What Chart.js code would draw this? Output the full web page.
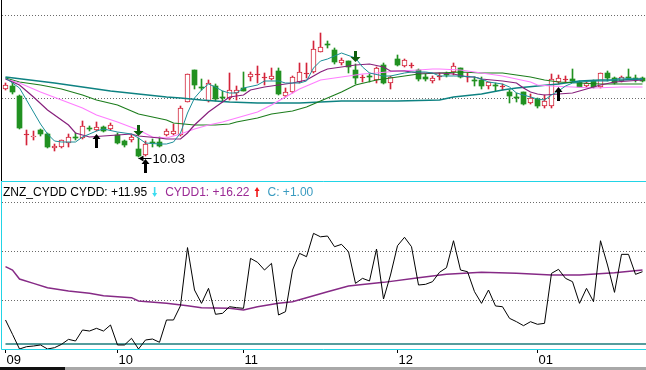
<!DOCTYPE html>
<html lang="en">
<head>
    <meta charset="UTF-8">
    <meta name="viewport" content="width=device-width, initial-scale=1.0">
    <title>ZNZ_CYDD</title>
    <script src="https://cdn.jsdelivr.net/npm/chart.js"></script>
    <style>
        body { margin: 0; background: #fff; font-family: Arial, "Liberation Sans", sans-serif; overflow: hidden; }
        #wrap { position: relative; width: 646px; height: 370px; }
        #priceChart { position: absolute; left: 0; top: 0; }
        #cyddChart { position: absolute; left: 0; top: 181px; }
        #scrollBar { position: absolute; left: 0; top: 367px; width: 646px; height: 3px; background: #a8a8a8; }
        #scrollThumb { width: 65px; height: 3px; background: #111; }
    </style>
</head>
<body>
<div id="wrap">
    <canvas id="priceChart" width="646" height="181"></canvas>
    <canvas id="cyddChart" width="646" height="186"></canvas>
    <div id="scrollBar"><div id="scrollThumb"></div></div>
</div>

<script>
    // month labels and the day index where each month starts
    const months = ["09", "10", "11", "12", "01"];
    const monthStart = [0, 16, 34, 56, 76];

    // daily candles
    const open = [10.71, 10.74, 10.64, 10.25, 10.23, 10.30, 10.26, 10.12, 10.13, 10.17,
                  10.23, 10.22, 10.32, 10.30, 10.33, 10.31, 10.25, 10.19, 10.20, 10.11,
                  10.05, 10.18, 10.18, 10.25, 10.26, 10.25, 10.58, 10.90, 10.73, 10.59,
                  10.74, 10.63, 10.62, 10.67, 10.72, 10.83, 10.85, 10.82, 10.81, 10.89,
                  10.64, 10.68, 10.78, 10.86, 10.88, 11.08, 11.16, 11.10, 10.97, 10.99,
                  10.90, 10.82, 10.84, 10.80, 10.95, 10.77, 11.01, 10.94, 10.94, 10.90,
                  10.83, 10.79, 10.83, 10.86, 10.88, 10.92, 10.83, 10.80, 10.80, 10.74,
                  10.75, 10.73, 10.68, 10.63, 10.68, 10.57, 10.61, 10.54, 10.54, 10.78,
                  10.80, 10.81, 10.78, 10.74, 10.79, 10.73, 10.87, 10.82, 10.79, 10.83,
                  10.82, 10.82];
    const high = [10.77, 10.77, 10.65, 10.30, 10.29, 10.31, 10.27, 10.16, 10.20, 10.26,
                  10.27, 10.39, 10.34, 10.38, 10.34, 10.37, 10.27, 10.20, 10.25, 10.22,
                  10.19, 10.21, 10.23, 10.31, 10.36, 10.54, 10.86, 10.90, 10.81, 10.80,
                  10.76, 10.69, 10.87, 10.74, 10.88, 10.88, 10.94, 10.87, 10.92, 10.92,
                  10.72, 10.84, 10.97, 10.97, 11.19, 11.27, 11.19, 11.12, 11.02, 10.99,
                  10.96, 10.85, 10.87, 10.93, 10.97, 10.84, 11.05, 11.01, 10.97, 10.91,
                  10.86, 10.84, 10.87, 10.88, 10.97, 10.92, 10.87, 10.83, 10.83, 10.78,
                  10.77, 10.76, 10.70, 10.67, 10.68, 10.66, 10.62, 10.65, 10.86, 10.85,
                  10.84, 10.91, 10.79, 10.79, 10.80, 10.87, 10.89, 10.83, 10.84, 10.91,
                  10.85, 10.83];
    const low = [10.70, 10.66, 10.31, 10.15, 10.20, 10.24, 10.12, 10.09, 10.12, 10.13,
                 10.20, 10.21, 10.29, 10.29, 10.28, 10.30, 10.16, 10.13, 10.18, 10.03,
                 10.04, 10.13, 10.13, 10.24, 10.25, 10.24, 10.58, 10.71, 10.70, 10.58,
                 10.59, 10.58, 10.60, 10.60, 10.69, 10.79, 10.77, 10.75, 10.80, 10.65,
                 10.63, 10.67, 10.77, 10.82, 10.87, 11.08, 11.12, 10.96, 10.95, 10.87,
                 10.76, 10.78, 10.78, 10.77, 10.76, 10.71, 10.94, 10.93, 10.92, 10.79,
                 10.79, 10.77, 10.80, 10.83, 10.85, 10.82, 10.78, 10.74, 10.71, 10.71,
                 10.69, 10.70, 10.57, 10.58, 10.55, 10.56, 10.52, 10.52, 10.52, 10.76,
                 10.78, 10.78, 10.73, 10.73, 10.72, 10.72, 10.79, 10.76, 10.78, 10.81,
                 10.78, 10.78];
    const close = [10.75, 10.68, 10.32, 10.25, 10.24, 10.26, 10.13, 10.14, 10.20, 10.23,
                   10.22, 10.34, 10.31, 10.33, 10.29, 10.35, 10.17, 10.15, 10.23, 10.04,
                   10.16, 10.17, 10.14, 10.29, 10.29, 10.52, 10.86, 10.75, 10.72, 10.77,
                   10.61, 10.62, 10.70, 10.70, 10.69, 10.86, 10.85, 10.82, 10.84, 10.66,
                   10.68, 10.83, 10.88, 10.86, 11.11, 11.13, 11.15, 10.98, 11.00, 10.93,
                   10.82, 10.82, 10.83, 10.92, 10.77, 10.83, 10.95, 11.00, 10.94, 10.81,
                   10.81, 10.82, 10.83, 10.85, 10.94, 10.83, 10.83, 10.79, 10.74, 10.78,
                   10.74, 10.73, 10.64, 10.62, 10.56, 10.62, 10.54, 10.59, 10.81, 10.82,
                   10.80, 10.79, 10.73, 10.77, 10.73, 10.87, 10.82, 10.77, 10.83, 10.82,
                   10.81, 10.79];

    // moving averages, [day, price]
    const ma5 = [[0, 10.82], [2, 10.72], [4, 10.48], [5, 10.36], [6, 10.26], [7, 10.19], [8, 10.18], [10, 10.18],
                 [11, 10.23], [13, 10.29], [14, 10.31], [16, 10.28], [18, 10.26], [19, 10.22], [20, 10.17], [22, 10.16],
                 [23, 10.16], [24, 10.18], [25, 10.27], [26, 10.47], [27, 10.62], [28, 10.70], [29, 10.76], [30, 10.73],
                 [31, 10.69], [32, 10.67], [33, 10.67], [34, 10.72], [36, 10.75], [37, 10.79], [39, 10.79], [40, 10.77],
                 [42, 10.77], [43, 10.79], [44, 10.92], [45, 10.99], [46, 11.01], [48, 11.07], [50, 11.02], [51, 10.93],
                 [52, 10.87], [54, 10.84], [55, 10.84], [57, 10.87], [58, 10.88], [60, 10.88], [61, 10.87], [62, 10.84],
                 [64, 10.84], [65, 10.84], [67, 10.83], [68, 10.81], [69, 10.78], [71, 10.76], [72, 10.73], [73, 10.67],
                 [75, 10.63], [76, 10.61], [77, 10.60], [78, 10.65], [79, 10.69], [80, 10.74], [81, 10.77], [82, 10.78],
                 [84, 10.79], [86, 10.79], [88, 10.82], [90, 10.81], [91, 10.81]];
    const ma10 = [[0, 10.81], [2, 10.75], [4, 10.63], [6, 10.50], [9, 10.35], [10, 10.27], [12, 10.23], [14, 10.24],
                  [16, 10.25], [18, 10.26], [19, 10.24], [22, 10.22], [23, 10.21], [25, 10.21], [26, 10.27], [27, 10.35],
                  [29, 10.48], [31, 10.58], [32, 10.63], [34, 10.65], [35, 10.70], [37, 10.73], [39, 10.75], [41, 10.77],
                  [43, 10.80], [44, 10.84], [45, 10.88], [46, 10.91], [48, 10.93], [50, 10.95], [52, 10.96], [54, 10.93],
                  [55, 10.89], [57, 10.89], [59, 10.87], [62, 10.87], [64, 10.86], [66, 10.83], [67, 10.83], [68, 10.81],
                  [71, 10.79], [73, 10.77], [74, 10.72], [75, 10.68], [76, 10.66], [77, 10.65], [79, 10.66], [81, 10.67],
                  [83, 10.71], [85, 10.75], [87, 10.78], [89, 10.79], [91, 10.80]];
    const ma20 = [[0, 10.81], [2, 10.77], [5, 10.68], [8, 10.60], [11, 10.52], [13, 10.45], [16, 10.38], [19, 10.30],
                  [21, 10.23], [23, 10.22], [25, 10.26], [27, 10.31], [29, 10.35], [31, 10.38], [34, 10.44], [36, 10.48],
                  [38, 10.55], [40, 10.63], [42, 10.71], [43, 10.74], [45, 10.80], [48, 10.83], [51, 10.86], [53, 10.87],
                  [56, 10.89], [59, 10.90], [61, 10.91], [62, 10.91], [65, 10.90], [68, 10.87], [71, 10.84], [73, 10.81],
                  [75, 10.78], [76, 10.75], [78, 10.74], [81, 10.73], [84, 10.72], [88, 10.73], [91, 10.73]];
    const ma30 = [[0, 10.82], [2, 10.78], [5, 10.75], [8, 10.71], [11, 10.65], [13, 10.60], [16, 10.55], [19, 10.46],
                  [23, 10.40], [24, 10.37], [27, 10.35], [30, 10.35], [32, 10.36], [33, 10.38], [36, 10.42], [38, 10.46],
                  [41, 10.49], [43, 10.53], [45, 10.59], [48, 10.68], [50, 10.75], [53, 10.80], [56, 10.83], [59, 10.86],
                  [62, 10.87], [65, 10.88], [68, 10.87], [71, 10.87], [73, 10.85], [75, 10.83], [77, 10.80], [79, 10.78],
                  [82, 10.77], [85, 10.76], [91, 10.76]];
    const ma60 = [[0, 10.83], [7, 10.77], [15, 10.69], [23, 10.63], [25, 10.62], [28, 10.60], [32, 10.58], [36, 10.57],
                  [42, 10.57], [45, 10.58], [48, 10.59], [56, 10.59], [62, 10.60], [64, 10.63], [68, 10.66], [71, 10.70],
                  [73, 10.72], [76, 10.74], [79, 10.76], [82, 10.79], [85, 10.80], [88, 10.80], [91, 10.81]];

    // signal arrows (days)
    const buyDays = [13, 20, 79];
    const sellDays = [19, 50];

    const priceGrid = [10.62, 11.45];

    // CYDD panel
    const cydd = [5.92, 3.0, 0, 0.47, 0.61, 0.82, 0, 0.27, 0.95, 1.97,
                  1.63, 3.88, 3.67, 4.22, 3.67, 4.90, 0.82, 0.82, 2.18, 0,
                  1.84, 2.04, 1.37, 5.92, 5.92, 8.84, 20.7, 12.04, 9.32, 12.38,
                  7.08, 7.28, 8.63, 8.44, 8.3, 18.5, 17.7, 16.12, 17.48, 6.94,
                  7.62, 16.12, 19.52, 18.84, 23.6, 22.9, 23.06, 20.88, 21.36, 19.86,
                  13.4, 14.42, 13.88, 20.4, 10.2, 15.1, 21.08, 22.8, 20.88, 13.06,
                  13.2, 13.74, 15.65, 16.6, 22.1, 16.12, 15.78, 11.7, 9.32, 12.04,
                  8.78, 8.63, 6.26, 5.57, 4.76, 5.57, 5.04, 5.24, 15.44, 16.26,
                  14.42, 13.74, 9.32, 12.38, 9.66, 22.1, 17.14, 11.56, 19.32, 19.32,
                  15.24, 15.78];
    const cydd1 = [[0, 16.8], [1, 16.12], [2, 14.29], [4, 13.4], [6, 12.5], [9, 11.84], [12, 11.37], [14, 10.88],
                   [18, 10.48], [19, 9.8], [23, 9.32], [26, 8.84], [28, 8.44], [32, 8.3], [34, 7.96], [36, 8.63],
                   [39, 9.32], [41, 9.66], [43, 10.48], [46, 11.7], [49, 12.86], [54, 13.6], [59, 14.56], [63, 15.24],
                   [68, 15.65], [73, 15.44], [78, 15.1], [82, 15.1], [87, 15.58], [91, 16.12]];
    const cLevel = 1.00;
    const cyddNow = 11.95;
    const cydd1Now = 16.22;
    const cyddGrid = [10, 20, 30];

    const RED = "#d3243a";
    const GREEN = "#219121";

    const days = open.map((v, i) => i);
    const upDays = days.filter(i => close[i] >= open[i]);
    const downDays = days.filter(i => close[i] < open[i]);

    function maLine(label, pairs, color, width) {
        return {
            type: "line",
            label: label,
            data: pairs.map(p => ({ x: p[0], y: p[1] })),
            borderColor: color,
            borderWidth: width,
            pointRadius: 0,
            tension: 0,
            order: 0
        };
    }

    // arrow with its tip at (cx, tip); up = true points upward
    function drawArrow(ctx, cx, tip, up, head, headLen, stem, len, color) {
        const s = up ? 1 : -1;
        ctx.fillStyle = color;
        ctx.beginPath();
        ctx.moveTo(cx, tip);
        ctx.lineTo(cx + head, tip + s * headLen);
        ctx.lineTo(cx + stem, tip + s * headLen);
        ctx.lineTo(cx + stem, tip + s * len);
        ctx.lineTo(cx - stem, tip + s * len);
        ctx.lineTo(cx - stem, tip + s * headLen);
        ctx.lineTo(cx - head, tip + s * headLen);
        ctx.closePath();
        ctx.fill();
    }

    const pricePlugin = {
        id: "priceMarks",
        afterDatasetsDraw(chart) {
            const { ctx, scales: { x, y } } = chart;
            ctx.save();
            ctx.fillStyle = "#000";
            ctx.fillRect(1, 0, 1, chart.height);

            buyDays.forEach(i => {
                drawArrow(ctx, x.getPixelForValue(i), Math.round(y.getPixelForValue(low[i])) + 3, true, 4, 5, 1.5, 14, "#000");
            });
            sellDays.forEach(i => {
                drawArrow(ctx, x.getPixelForValue(i), Math.round(y.getPixelForValue(high[i])) - 2, false, 5, 5, 1.5, 11, "#0e5e0e");
            });

            // lowest price marker
            const minLow = Math.min(...low);
            const li = low.indexOf(minLow);
            const lx = x.getPixelForValue(li);
            const ly = Math.round(y.getPixelForValue(minLow)) + 1.5;
            ctx.strokeStyle = "#000";
            ctx.lineWidth = 1;
            ctx.beginPath();
            ctx.moveTo(lx, ly);
            ctx.lineTo(lx + 13, ly);
            ctx.stroke();
            ctx.fillStyle = "#000";
            ctx.beginPath();
            ctx.moveTo(lx, ly);
            ctx.lineTo(lx + 5, ly - 3);
            ctx.lineTo(lx + 5, ly + 3);
            ctx.closePath();
            ctx.fill();
            ctx.font = "13px Arial";
            ctx.textBaseline = "middle";
            ctx.fillText(minLow.toFixed(2), lx + 14, ly + 1);
            ctx.restore();
        }
    };

    new Chart(document.getElementById("priceChart"), {
        type: "bar",
        data: {
            datasets: [
                maLine("MA5", ma5, "#1b8e98", 1),
                maLine("MA10", ma10, "#87207c", 1.2),
                maLine("MA20", ma20, "#ff7eff", 1.2),
                maLine("MA30", ma30, "#1d7d1d", 1.2),
                maLine("MA60", ma60, "#0e8282", 1.5),
                {
                    label: "wick up",
                    data: upDays.map(i => ({ x: i, y: [low[i], high[i]] })),
                    backgroundColor: RED,
                    barThickness: 1,
                    grouped: false,
                    order: 2
                },
                {
                    label: "wick down",
                    data: downDays.map(i => ({ x: i, y: [low[i], high[i]] })),
                    backgroundColor: GREEN,
                    barThickness: 1,
                    grouped: false,
                    order: 2
                },
                {
                    label: "body up",
                    data: upDays.map(i => ({ x: i, y: [open[i], close[i]] })),
                    backgroundColor: ctx => (ctx.raw && ctx.raw.y[0] === ctx.raw.y[1]) ? RED : "#fff",
                    borderColor: RED,
                    borderWidth: 1,
                    borderSkipped: false,
                    barThickness: 5,
                    minBarLength: 1,
                    grouped: false,
                    order: 1
                },
                {
                    label: "body down",
                    data: downDays.map(i => ({ x: i, y: [open[i], close[i]] })),
                    backgroundColor: GREEN,
                    borderWidth: 0,
                    barThickness: 5,
                    minBarLength: 1,
                    grouped: false,
                    order: 1
                }
            ]
        },
        options: {
            responsive: false,
            animation: false,
            events: [],
            layout: { padding: { left: 2, right: 0, top: 0, bottom: 0 } },
            plugins: { legend: { display: false }, tooltip: { enabled: false } },
            scales: {
                x: { type: "linear", min: -0.5, max: 91.5, offset: false, display: false },
                y: {
                    min: 9.79,
                    max: 11.60,
                    afterBuildTicks: s => { s.ticks = priceGrid.map(v => ({ value: v })); },
                    afterFit: s => { s.width = 0; },
                    ticks: { display: false },
                    grid: { color: "#6a6a6a", drawTicks: false },
                    border: { display: false, dash: [1, 2] }
                }
            }
        },
        plugins: [pricePlugin]
    });

    const fmt = v => "+" + v.toFixed(2);

    const cyddPlugin = {
        id: "cyddPanel",
        beforeDatasetsDraw(chart) {
            const { ctx, chartArea: a } = chart;
            ctx.save();
            ctx.strokeStyle = "#22d4e6";
            ctx.lineWidth = 1;
            ctx.beginPath();
            ctx.moveTo(chart.width, a.top + 0.5);
            ctx.lineTo(1.5, a.top + 0.5);
            ctx.lineTo(1.5, a.bottom + 0.5);
            ctx.lineTo(chart.width, a.bottom + 0.5);
            ctx.stroke();
            ctx.restore();
        },
        afterDraw(chart) {
            const { ctx, chartArea: a } = chart;
            // [text, colour, arrow after it (0 none, 1 down, 2 up), arrow colour]
            const parts = [
                ["ZNZ_CYDD CYDD: " + fmt(cyddNow), "#000", 1, "#3ddcf0"],
                ["CYDD1: " + fmt(cydd1Now), "#9b2a95", 2, "#f01818"],
                ["C: " + fmt(cLevel), "#3a9bc0", 0, null]
            ];
            const base = a.top + 15;
            ctx.save();
            ctx.font = "12px Arial";
            ctx.textBaseline = "alphabetic";
            let x = 3;
            parts.forEach(([t, c, arrow, ac]) => {
                ctx.fillStyle = c;
                ctx.fillText(t, x, base);
                x += ctx.measureText(t).width;
                if (arrow) {
                    const cx = x + 7.5;
                    if (arrow === 1) drawArrow(ctx, cx, base + 1, false, 2.5, 4, 0.8, 10, ac);
                    else drawArrow(ctx, cx, base - 9, true, 2.5, 4, 0.8, 10, ac);
                    x += 18;
                }
            });
            ctx.restore();
        }
    };

    new Chart(document.getElementById("cyddChart"), {
        type: "line",
        data: {
            datasets: [
                { label: "CYDD", data: cydd.map((v, i) => ({ x: i, y: v })), borderColor: "#000", borderWidth: 1 },
                { label: "CYDD1", data: cydd1.map(p => ({ x: p[0], y: p[1] })), borderColor: "#862a86", borderWidth: 1.5 },
                { label: "C", data: [{ x: 0, y: cLevel }, { x: 91.5, y: cLevel }], borderColor: "#1c7c7c", borderWidth: 1.5 }
            ]
        },
        options: {
            responsive: false,
            animation: false,
            events: [],
            layout: { padding: { left: 2, right: 0, top: 0, bottom: 0 } },
            elements: { point: { radius: 0 }, line: { tension: 0 } },
            plugins: { legend: { display: false }, tooltip: { enabled: false } },
            scales: {
                x: {
                    type: "linear",
                    min: -0.5,
                    max: 91.5,
                    afterBuildTicks: s => { s.ticks = monthStart.map(v => ({ value: v })); },
                    afterFit: s => { s.height = 18; },
                    ticks: {
                        align: "start",
                        labelOffset: 1,
                        padding: 0,
                        maxRotation: 0,
                        autoSkip: false,
                        color: "#000",
                        font: { family: "Arial", size: 13 },
                        callback: v => months[monthStart.indexOf(v)]
                    },
                    grid: { drawOnChartArea: false, tickLength: 4, tickColor: "#000" },
                    border: { display: false }
                },
                y: {
                    min: 0,
                    max: 34.29,
                    afterBuildTicks: s => { s.ticks = cyddGrid.map(v => ({ value: v })); },
                    afterFit: s => { s.width = 0; },
                    ticks: { display: false },
                    grid: { color: "#6a6a6a", drawTicks: false },
                    border: { display: false, dash: [1, 2] }
                }
            }
        },
        plugins: [cyddPlugin]
    });
</script>
</body>
</html>
